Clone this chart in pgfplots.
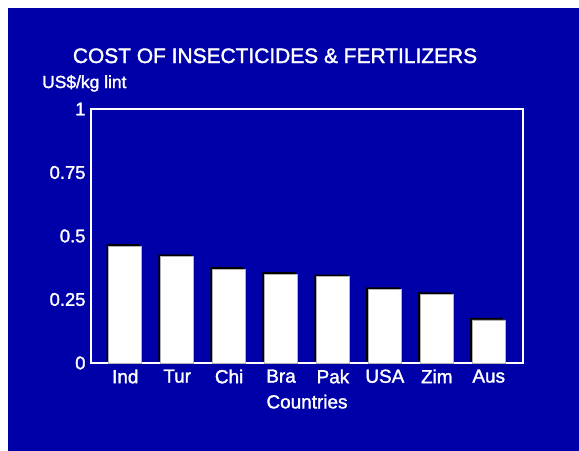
\documentclass[border=0pt]{standalone}
\usepackage{pgfplots}
\pgfplotsset{compat=1.18}
\usepackage{fontspec}
\setmainfont{Liberation Sans}
\newfontfamily\thick{Liberation Sans}[FakeBold=1.6]
\definecolor{bgblue}{RGB}{0,0,168}
\begin{document}
\begin{tikzpicture}
\fill[white] (0bp,0bp) rectangle (579bp,-451bp);
\fill[bgblue] (8bp,-8bp) rectangle (579bp,-451bp);
\path[use as bounding box] (0bp,0bp) rectangle (579bp,-451bp);
\node[white, anchor=base, font=\thick\fontsize{21}{21}\selectfont] at (275bp,-63bp) {COST OF INSECTICIDES \& FERTILIZERS};
\node[white, anchor=base west, inner sep=0pt, font=\thick\fontsize{17.5}{17.5}\selectfont] at (42bp,-88bp) {US\$/kg lint};
\begin{axis}[
  at={(91bp,-363bp)}, anchor=south west,
  scale only axis, width=432bp, height=254bp,
  ymin=0, ymax=1, xmin=-0.66, xmax=7.66,
  xtick=data,
  xticklabels={Ind,Tur,Chi,Bra,Pak,USA,Zim,Aus},
  ytick={0,0.25,0.5,0.75,1},
  yticklabels={0,0.25,0.5,0.75,1},
  axis line style={white, line width=1.2bp},
  major tick length=0pt,
  tick style={draw=none},
  xticklabel style={white, font=\thick\fontsize{19}{19}\selectfont, yshift=-3bp},
  yticklabel style={white, font=\thick\fontsize{18.5}{18.5}\selectfont, xshift=-2bp},
  xlabel={Countries},
  xlabel style={white, font=\thick\fontsize{19}{19}\selectfont, at={(axis description cs:0.5,-0.152)}, anchor=center},
  ybar, bar width=33bp,
]
\addplot[fill=black, draw=none, bar shift=0pt, xshift=-2.2bp, yshift=2bp] coordinates {(0,0.46) (1,0.42) (2,0.37) (3,0.35) (4,0.34) (5,0.29) (6,0.27) (7,0.17)};
\addplot[fill=white, draw=gray!60, line width=0.6bp, bar shift=0pt] coordinates {(0,0.46) (1,0.42) (2,0.37) (3,0.35) (4,0.34) (5,0.29) (6,0.27) (7,0.17)};
\end{axis}
\end{tikzpicture}
\end{document}
